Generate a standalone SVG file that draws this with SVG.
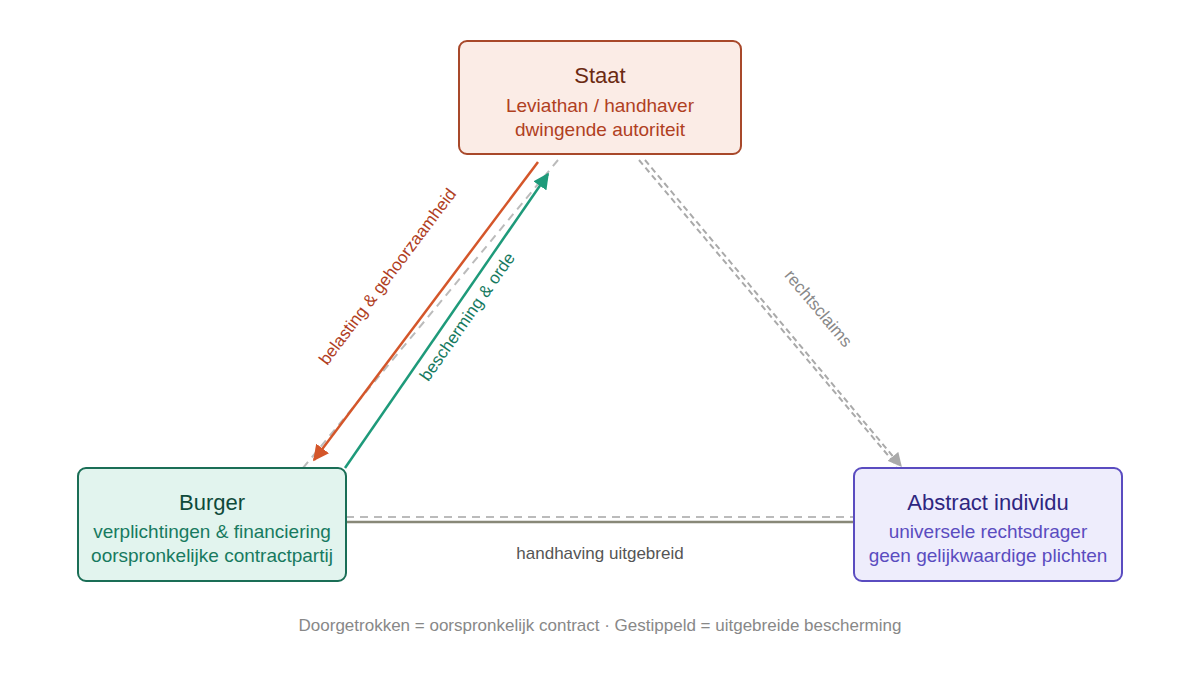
<svg xmlns="http://www.w3.org/2000/svg" width="1200" height="675" viewBox="0 0 1200 675">
<style>
text{font-family:"Liberation Sans",Arial,sans-serif;text-anchor:middle}
.t{font-size:22px}.s{font-size:19px}.l{font-size:17px}
</style>
<defs>
<marker id="ar" viewBox="0 0 10 10" refX="9" refY="5" markerWidth="16" markerHeight="16" markerUnits="userSpaceOnUse" orient="auto"><path d="M0,0L10,5L0,10z" fill="#d4562a"/></marker>
<marker id="ag" viewBox="0 0 10 10" refX="9" refY="5" markerWidth="16" markerHeight="16" markerUnits="userSpaceOnUse" orient="auto"><path d="M0,0L10,5L0,10z" fill="#1e9a7a"/></marker>
<marker id="ay" viewBox="0 0 10 10" refX="9" refY="5" markerWidth="14" markerHeight="14" markerUnits="userSpaceOnUse" orient="auto"><path d="M0,0L10,5L0,10z" fill="#aaa"/></marker>
</defs>
<rect width="1200" height="675" fill="#fff"/>
<g id="connectors" fill="none">
<line x1="558" y1="160" x2="303" y2="468" stroke="#bbb" stroke-width="2" stroke-dasharray="8,6"/>
<line x1="538" y1="162" x2="314" y2="460" stroke="#d4562a" stroke-width="2.5" marker-end="url(#ar)"/>
<line x1="345" y1="468" x2="548" y2="174" stroke="#1e9a7a" stroke-width="2.5" marker-end="url(#ag)"/>
<line x1="639" y1="160" x2="897" y2="466" stroke="#aaa" stroke-width="2" stroke-dasharray="6,4"/>
<line x1="645" y1="160" x2="901" y2="466" stroke="#aaa" stroke-width="2" stroke-dasharray="6,4" marker-end="url(#ay)"/>
<line x1="346" y1="517" x2="854" y2="517" stroke="#bbb" stroke-width="2" stroke-dasharray="8,6"/>
<line x1="346" y1="522" x2="854" y2="522" stroke="#888878" stroke-width="2.5"/>
<text class="l" fill="#b0401f" transform="translate(392,280) rotate(-53)">belasting &amp; gehoorzaamheid</text>
<text class="l" fill="#177a5f" transform="translate(472,320) rotate(-55)">bescherming &amp; orde</text>
<text class="l" fill="#888" transform="translate(814,312) rotate(50)">rechtsclaims</text>
<text class="l" fill="#555" x="600" y="559">handhaving uitgebreid</text>
</g>
<g id="staat">
<rect x="459" y="41" width="282" height="113" rx="8" fill="#fbece6" stroke="#a8482a" stroke-width="2"/>
<text class="t" x="600" y="83" fill="#6b2a12">Staat</text>
<text class="s" x="600" y="112" fill="#b0401f">Leviathan / handhaver</text>
<text class="s" x="600" y="136" fill="#b0401f">dwingende autoriteit</text>
</g>
<g id="burger">
<rect x="78" y="468" width="268" height="113" rx="8" fill="#e2f4ee" stroke="#1a6e56" stroke-width="2"/>
<text class="t" x="212" y="510" fill="#0f4a3a">Burger</text>
<text class="s" x="212" y="538" fill="#177a5f">verplichtingen &amp; financiering</text>
<text class="s" x="212" y="562" fill="#177a5f">oorspronkelijke contractpartij</text>
</g>
<g id="individu">
<rect x="854" y="468" width="268" height="113" rx="8" fill="#eeedfc" stroke="#5a4cc0" stroke-width="2"/>
<text class="t" x="988" y="510" fill="#2e2680">Abstract individu</text>
<text class="s" x="988" y="538" fill="#5a4cc0">universele rechtsdrager</text>
<text class="s" x="988" y="562" fill="#5a4cc0">geen gelijkwaardige plichten</text>
</g>
<text class="l" x="600" y="631" fill="#888">Doorgetrokken = oorspronkelijk contract · Gestippeld = uitgebreide bescherming</text>
</svg>
